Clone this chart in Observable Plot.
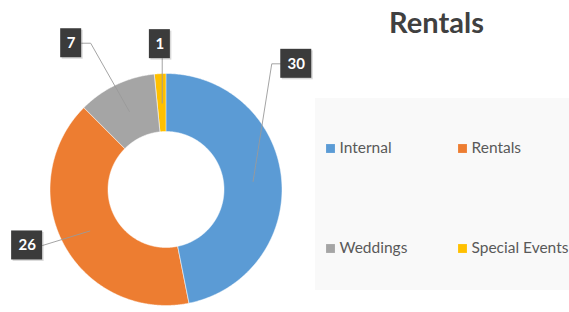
<!DOCTYPE html>
<html>
<head>
<meta charset="utf-8">
<script src="https://cdn.jsdelivr.net/npm/d3@7"></script>
<script src="https://cdn.jsdelivr.net/npm/@observablehq/plot@0.6"></script>
<style>
  html, body { margin: 0; padding: 0; background: #ffffff; }
  #chart { width: 569px; height: 312px; overflow: hidden; }
  #chart svg { display: block; font-family: Lato, "Open Sans", sans-serif; }
</style>
</head>
<body>
<div id="chart"></div>
<script>
// ---- data ----
const title = "Rentals";
const categories = ["Internal", "Rentals", "Weddings", "Special Events"];
const values = [30, 26, 7, 1];
const colors = ["#5B9BD5", "#ED7D31", "#A5A5A5", "#FFC000"];

// ---- layout (pixel geometry of the figure, not data) ----
const W = 569, H = 312;
const cx = 166, cy = 189.5, R = 116, r0 = 58;
// data-label callouts: polar placement (degrees clockwise from top, distance from centre)
const labelAngle = [45.8, 248.3, 327, 357.4];
const labelDist = [181, 150, 175, 146];
const legendCols = [330, 462];
const legendRows = [148, 248];
const legendPanel = {x1: 315, x2: 569, y1: 98, y2: 290};
const titlePos = {x: 436, y: 23.5};

// ---- derived geometry ----
const total = d3.sum(values);
const toXY = (deg, rho) => {
  const t = deg * Math.PI / 180;
  return [cx + rho * Math.sin(t), cy - rho * Math.cos(t)];
};
let acc = 0;
const slices = categories.map((cat, i) => {
  const a0 = acc / total * 360;
  acc += values[i];
  const a1 = acc / total * 360;
  return {cat, value: values[i], a0, a1, mid: (a0 + a1) / 2};
});

// annular sectors: outer arc as (x1,y1), inner arc as (x2,y2)
const arcPoints = [];
for (const s of slices) {
  const n = Math.max(4, Math.ceil((s.a1 - s.a0) / 0.5));
  for (let k = 0; k <= n; k++) {
    const a = s.a0 + (s.a1 - s.a0) * k / n;
    const [ox, oy] = toXY(a, R);
    const [ix, iy] = toXY(a, r0);
    arcPoints.push({cat: s.cat, ox, oy, ix, iy});
  }
}

const labels = slices.map((s, i) => {
  const [x, y] = toXY(labelAngle[i], labelDist[i]);
  const txt = String(s.value);
  const w = 11 + 10 * txt.length, h = 29;
  const [ex, ey] = toXY(s.mid, (R + r0) / 2);
  return {cat: s.cat, text: txt, x, y, x1: x - w / 2, x2: x + w / 2, y1: y - h / 2, y2: y + h / 2, ex, ey};
});

const leaders = [];
for (const l of labels) {
  const dx = l.ex - l.x, dy = l.ey - l.y;
  const hw = (l.x2 - l.x1) / 2;
  let pts;
  if (Math.abs(dx) < hw) {
    pts = [[l.ex, l.y2], [l.ex, l.ey]];
  } else {
    const side = dx > 0 ? l.x2 : l.x1;
    const sgn = dx > 0 ? 1 : -1;
    if (Math.abs(dy) > Math.abs(dx)) pts = [[side, l.y], [side + sgn * 9, l.y], [l.ex, l.ey]];
    else pts = [[side, l.y], [l.ex, l.ey]];
  }
  for (const [x, y] of pts) leaders.push({cat: l.cat, x, y});
}

const legendItems = categories.map((cat, i) => ({
  cat,
  x: legendCols[i % 2],
  y: legendRows[Math.floor(i / 2)]
}));

const chart = Plot.plot({
  width: W,
  height: H,
  margin: 0,
  x: {domain: [0, W], range: [0, W], axis: null},
  y: {domain: [0, H], range: [0, H], axis: null},
  color: {domain: categories, range: colors},
  marks: [
    Plot.rect([legendPanel], {x1: "x1", x2: "x2", y1: "y1", y2: "y2", fill: "#f9f9f9"}),
    Plot.area(arcPoints, {x1: "ox", y1: "oy", x2: "ix", y2: "iy", z: "cat", fill: "cat", stroke: "#ffffff", strokeWidth: 0.5, curve: "linear"}),
    Plot.line(leaders, {x: "x", y: "y", z: "cat", stroke: "#9a9a9a", strokeWidth: 0.9}),
    Plot.rect(labels, {x1: d => d.x1 + 1.5, x2: d => d.x2 + 1.5, y1: d => d.y1 + 1.5, y2: d => d.y2 + 1.5, fill: "#000000", fillOpacity: 0.15}),
    Plot.rect(labels, {x1: "x1", x2: "x2", y1: "y1", y2: "y2", fill: "#3b3b3b"}),
    Plot.text(labels, {x: "x", y: "y", text: "text", fill: "#ffffff", fontWeight: "bold", fontSize: 15, fontFamily: "Lato"}),
    Plot.text([title], {x: () => titlePos.x, y: () => titlePos.y, text: d => d, fontSize: 29, fontWeight: "bold", fill: "#404040", fontFamily: "Lato", textAnchor: "middle"}),
    Plot.dot(legendItems, {x: "x", y: "y", fill: "cat", symbol: "square", r: 5, stroke: null}),
    Plot.text(legendItems, {x: d => d.x + 9, y: "y", text: "cat", textAnchor: "start", fontSize: 15.5, fill: "#595959", fontFamily: "Lato"})
  ]
});

document.getElementById("chart").appendChild(chart);
</script>
</body>
</html>
